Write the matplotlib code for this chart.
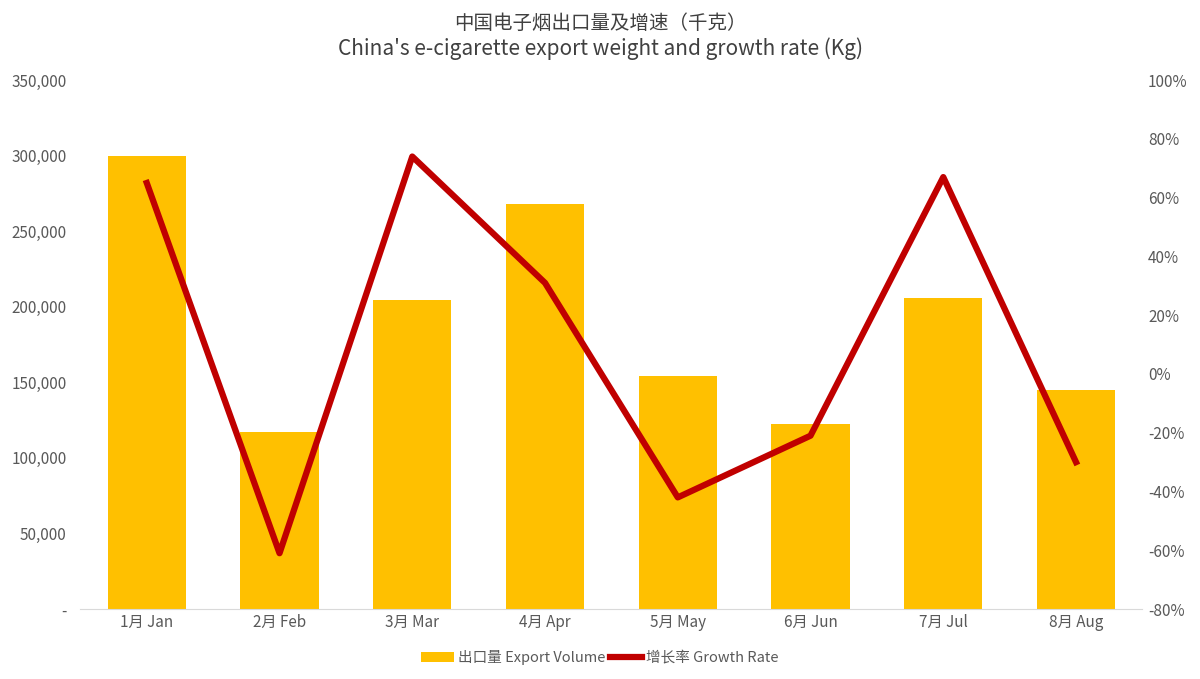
import matplotlib
matplotlib.use('Agg')
import matplotlib.pyplot as plt
import numpy as np
from matplotlib.ticker import FuncFormatter

plt.rcParams['font.family'] = 'Noto Sans CJK SC'

# data
months = ['1月 Jan', '2月 Feb', '3月 Mar', '4月 Apr', '5月 May', '6月 Jun', '7月 Jul', '8月 Aug']
volume = [300000, 117000, 204500, 268000, 154500, 122500, 205500, 145000]
growth = [65, -61, 74, 31, -42, -21, 67, -30]

fig = plt.figure(figsize=(12, 6.79), dpi=100)
ax = fig.add_axes([0.067, 0.103, 0.885, 0.779])
ax2 = ax.twinx()

x = np.arange(len(months))
ax.bar(x, volume, width=0.59, color='#FFC000', label='出口量 Export Volume', zorder=2)
ax2.plot(x, growth, color='#C00000', lw=4.5, label='增长率 Growth Rate', zorder=3)

ax.set_xlim(-0.5, len(months) - 0.5)
ax.set_ylim(0, 350000)
ax2.set_ylim(-80, 100)
ax.set_yticks(np.arange(0, 350001, 50000))
ax2.set_yticks(np.arange(-80, 101, 20))
ax.yaxis.set_major_formatter(FuncFormatter(lambda v, p: '-' if v == 0 else f'{int(v):,}'))
ax2.yaxis.set_major_formatter(FuncFormatter(lambda v, p: f'{int(v)}%'))
ax.set_xticks(x)
ax.set_xticklabels(months)

for a in (ax, ax2):
    for s in a.spines.values():
        s.set_visible(False)
    a.tick_params(length=0, colors='#595959', labelsize=11)
ax.spines['bottom'].set_visible(True)
ax.spines['bottom'].set_color('#D9D9D9')
ax.tick_params(axis='y', pad=10)
ax2.tick_params(axis='y', pad=4)

fig.text(0.5, 0.965, '中国电子烟出口量及增速（千克）', ha='center', va='center', fontsize=14, color='#404040')
fig.text(0.5, 0.928, "China's e-cigarette export weight and growth rate (Kg)", ha='center', va='center',
         fontsize=15, color='#404040')

h1, l1 = ax.get_legend_handles_labels()
h2, l2 = ax2.get_legend_handles_labels()
fig.legend(h1 + h2, l1 + l2, loc='center', bbox_to_anchor=(0.5, 0.032), ncol=2, frameon=False,
           fontsize=10.5, labelcolor='#595959', handlelength=2.2, columnspacing=0.3, handletextpad=0.3)

fig.savefig('out.png', dpi=100)
